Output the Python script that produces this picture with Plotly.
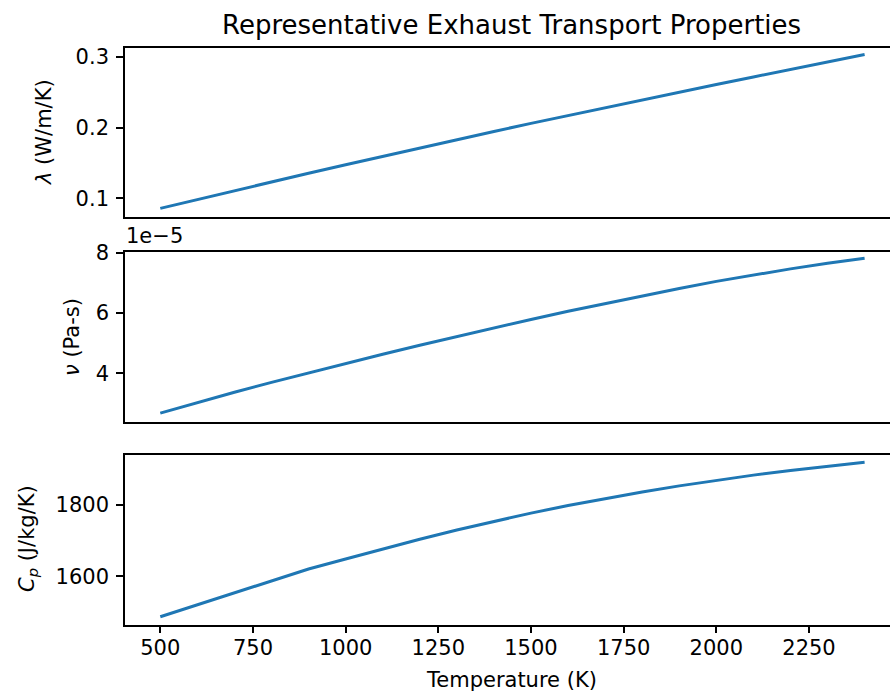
import plotly.graph_objects as go
from plotly.subplots import make_subplots

# ---- data ----
temperature_K = [500, 600, 700, 800, 900, 1000, 1100, 1200, 1300, 1400,
                 1500, 1600, 1700, 1800, 1900, 2000, 2100, 2200, 2300, 2400]
conductivity_W_mK = [0.0860, 0.0986, 0.1111, 0.1235, 0.1357, 0.1478, 0.1598, 0.1716,
                     0.1833, 0.1948, 0.2062, 0.2174, 0.2285, 0.2395, 0.2504, 0.2612,
                     0.2719, 0.2825, 0.2931, 0.3036]
viscosity_1e5_Pas = [2.68, 3.03, 3.37, 3.70, 4.02, 4.33, 4.635, 4.935, 5.225, 5.51,
                     5.79, 6.06, 6.32, 6.575, 6.82, 7.055, 7.27, 7.47, 7.655, 7.825]
cp_J_kgK = [1487, 1520, 1553, 1587, 1620, 1648, 1676, 1703, 1729, 1753,
            1776, 1797, 1817, 1835, 1852, 1868, 1882, 1895, 1907, 1918]

x_ticks = [500, 750, 1000, 1250, 1500, 1750, 2000, 2250]
lam_ticks = [0.1, 0.2, 0.3]
nu_ticks = [4, 6, 8]
cp_ticks = [1600, 1800]

W, H = 890, 694
L, R, T, B = 125, 0, 48, 69
PW, PH = W - L - R, H - T - B
LINE = "#1f77b4"
FONT = "DejaVu Sans"
TICK_FS = 21
TITLE_FS = 26


def px_y(p):
    """pixel row -> paper y fraction (clamped inside the plot area)"""
    v = 1 - (p - T) / PH
    if T <= p <= H - B:
        v = min(1.0, max(0.0, v))
    return v


def px_x(p):
    return (p - L) / PW


fig = make_subplots(rows=3, cols=1, shared_xaxes=True)
fig.add_trace(go.Scatter(x=temperature_K, y=conductivity_W_mK, mode="lines",
                         line=dict(color=LINE, width=3)), row=1, col=1)
fig.add_trace(go.Scatter(x=temperature_K, y=viscosity_1e5_Pas, mode="lines",
                         line=dict(color=LINE, width=3)), row=2, col=1)
fig.add_trace(go.Scatter(x=temperature_K, y=cp_J_kgK, mode="lines",
                         line=dict(color=LINE, width=3)), row=3, col=1)

axis_common = dict(showline=True, linecolor="black", linewidth=1.6, ticks="outside",
                   ticklen=7, tickwidth=1.6, tickcolor="black", showgrid=False,
                   zeroline=False, automargin=False,
                   tickfont=dict(family=FONT, size=TICK_FS, color="black"))

xr = [404.8, 2468.5]
for i in (1, 2, 3):
    key = "xaxis" if i == 1 else f"xaxis{i}"
    if i == 3:
        fig.layout[key].update(**axis_common, range=xr, mirror=True, tickvals=x_ticks,
                               showticklabels=True, domain=[0, 1], ticklabelstandoff=-4)
    else:
        fig.layout[key].update(**axis_common, range=xr, mirror=True,
                               showticklabels=False, domain=[0, 1])
        fig.layout[key].ticks = ""

fig.update_yaxes(**axis_common, mirror=False, range=[0.0745, 0.3128], tickvals=lam_ticks,
                 ticktext=["0.1", "0.2", "0.3"], domain=[px_y(216.5), px_y(48)],
                 ticklabelstandoff=3, row=1, col=1)
fig.update_yaxes(**axis_common, mirror=False, range=[2.40, 8.03], tickvals=nu_ticks,
                 domain=[px_y(421.5), px_y(252)], ticklabelstandoff=3, row=2, col=1)
fig.update_yaxes(**axis_common, mirror=False, range=[1465.3, 1939.5], tickvals=cp_ticks,
                 domain=[px_y(624.5), px_y(454.5)], ticklabelstandoff=3, row=3, col=1)

lab_font = dict(family=FONT, size=TICK_FS, color="black")
fig.add_annotation(text="Representative Exhaust Transport Properties", xref="paper", yref="paper",
                   x=px_x(511), y=px_y(25), showarrow=False, xanchor="center", yanchor="middle",
                   font=dict(family=FONT, size=TITLE_FS, color="black"))
fig.add_annotation(text="1e\u22125", xref="paper", yref="paper",
                   x=px_x(124), y=px_y(236), showarrow=False, xanchor="left", yanchor="middle",
                   font=lab_font)
fig.add_annotation(text="<i>λ</i> (W/m/K)", xref="paper", yref="paper", textangle=-90,
                   x=px_x(44), y=px_y(132), showarrow=False, xanchor="center", yanchor="middle",
                   font=lab_font)
fig.add_annotation(text="<i>ν</i> (Pa-s)", xref="paper", yref="paper", textangle=-90,
                   x=px_x(72), y=px_y(337), showarrow=False, xanchor="center", yanchor="middle",
                   font=lab_font)
fig.add_annotation(text="<i>C<sub>p</sub></i> (J/kg/K)", xref="paper", yref="paper", textangle=-90,
                   x=px_x(28), y=px_y(539), showarrow=False, xanchor="center", yanchor="middle",
                   font=lab_font)
fig.add_annotation(text="Temperature (K)", xref="paper", yref="paper",
                   x=px_x(511), y=px_y(680), showarrow=False, xanchor="center", yanchor="middle",
                   font=lab_font)

fig.update_layout(width=W, height=H, margin=dict(l=L, r=R, t=T, b=B, autoexpand=False),
                  plot_bgcolor="white", paper_bgcolor="white", showlegend=False,
                  font=dict(family=FONT, size=TICK_FS, color="black"))

fig.write_html("out.html", config={"displayModeBar": False},
               post_script="document.body.style.margin='0';document.body.style.overflow='hidden';")
